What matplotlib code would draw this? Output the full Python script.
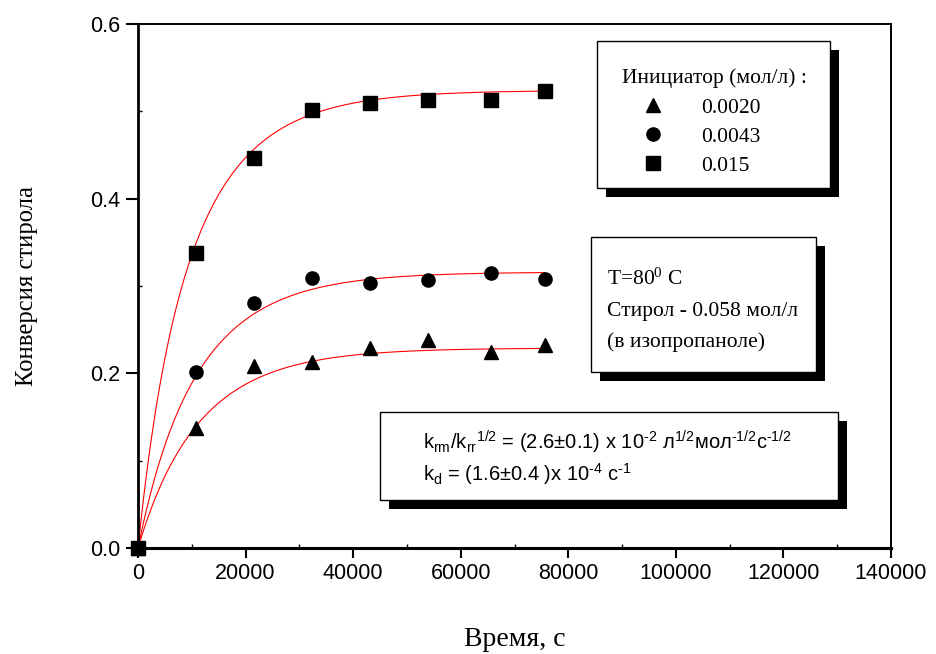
import numpy as np
import matplotlib.pyplot as plt
from matplotlib.patches import Rectangle
from matplotlib.ticker import MultipleLocator

plt.rcParams['mathtext.default'] = 'regular'

# time, s
t = [0, 10800, 21600, 32400, 43200, 54000, 65700, 75600]
# conversion of styrene for each initiator concentration
conv_0020 = [0.0, 0.137, 0.208, 0.213, 0.229, 0.238, 0.225, 0.233]
conv_0043 = [0.0, 0.201, 0.280, 0.309, 0.303, 0.307, 0.315, 0.308]
conv_015 = [0.0, 0.338, 0.447, 0.502, 0.510, 0.513, 0.513, 0.523]
labels = ['0.0020', '0.0043', '0.015']

# fit: dead-end polymerization, kd from the box, limiting conversions
kd = 1.6e-4
p_inf = [0.229, 0.316, 0.524]

fig = plt.figure(figsize=(9.37, 6.54), dpi=100)
ax = fig.add_axes([138/937, 1-548/654, (891-138)/937, (548-24)/654])

tf = np.linspace(0, t[-1], 300)
for p in p_inf:
    ax.plot(tf, 1 - (1 - p) ** (1 - np.exp(-kd * tf / 2)), color='red', lw=0.8)

ms = 9.5
h1, = ax.plot(t, conv_0020, '^', color='black', ms=ms+1, clip_on=False, zorder=5)
h2, = ax.plot(t, conv_0043, 'o', color='black', ms=ms, clip_on=False, zorder=5)
h3, = ax.plot(t, conv_015, 's', color='black', ms=ms, clip_on=False, zorder=5)

ax.set_xlim(0, 140000)
ax.set_ylim(0, 0.6)
ax.xaxis.set_major_locator(MultipleLocator(20000))
ax.xaxis.set_minor_locator(MultipleLocator(10000))
ax.yaxis.set_major_locator(MultipleLocator(0.2))
ax.yaxis.set_minor_locator(MultipleLocator(0.1))
ax.yaxis.set_major_formatter(plt.FuncFormatter(lambda v, pos: f'{v:.1f}'))
ax.tick_params(which='major', direction='out', width=1.5, labelsize=15.5, pad=4)
ax.tick_params(axis='x', which='major', length=7)
ax.tick_params(axis='y', which='major', length=9)
ax.tick_params(which='minor', direction='in', length=3, width=1)
for lab in ax.get_xticklabels() + ax.get_yticklabels():
    lab.set_family('Liberation Sans')
ax.spines['left'].set_linewidth(2.0)
ax.spines['bottom'].set_linewidth(2.2)
ax.spines['top'].set_linewidth(1.4)
ax.spines['right'].set_linewidth(1.4)

ax.set_xlabel('Время, с', family='Liberation Serif', fontsize=20, labelpad=31)
ax.set_ylabel('Конверсия стирола', family='Liberation Serif', fontsize=17.7, labelpad=37)

W, H = 937, 654


def box(x0, y0, x1, y1, off=9):
    # pixel coords, y from top
    ax.add_patch(Rectangle(((x0+off)/W, 1-(y1+off)/H), (x1-x0)/W, (y1-y0)/H,
                           transform=fig.transFigure, fc='black', ec='none',
                           zorder=6, clip_on=False))
    ax.add_patch(Rectangle((x0/W, 1-y1/H), (x1-x0)/W, (y1-y0)/H,
                           transform=fig.transFigure, fc='white', ec='black',
                           lw=1.0, zorder=7, clip_on=False))


box(597, 41, 830, 188)
box(591, 237, 816, 372)
box(380, 412, 838, 500)

fs = 15.5
leg = ax.legend([h1, h2, h3], labels, title='Инициатор (мол/л) :',
                loc='upper left', bbox_to_anchor=(611/W, 1-58/H),
                bbox_transform=fig.transFigure, frameon=False, borderpad=0,
                alignment='left', handlelength=2.9, handletextpad=0.8,
                labelspacing=0.42, prop={'family': 'Liberation Serif', 'size': fs},
                title_fontproperties={'family': 'Liberation Serif', 'size': fs})
leg.set_zorder(8)

serif = dict(family='Liberation Serif', fontsize=fs, zorder=8, va='center',
             transform=fig.transFigure)
ax.text(607/W, 1-279/H, 'T=80$^0$ C', **serif)
ax.text(607/W, 1-311/H, 'Стирол - 0.058 мол/л', **serif)
ax.text(607/W, 1-342/H, '(в изопропаноле)', **serif)

sans = dict(family='Liberation Sans', fontsize=14.5, zorder=8, va='center',
            transform=fig.transFigure)
ax.text(423/W, 1-442/H,
        'k$_{rm}$/k$_{rr}$$^{1/2}$ = (2.6±0.1) x 10$^{\u20102}$ л$^{1/2}$мол$^{\u20101/2}$с$^{\u20101/2}$',
        **sans)
ax.text(423/W, 1-474/H, 'k$_d$ = (1.6±0.4 )x 10$^{\u20104}$ с$^{\u20101}$', **sans)

fig.savefig('out.png', dpi=100)
